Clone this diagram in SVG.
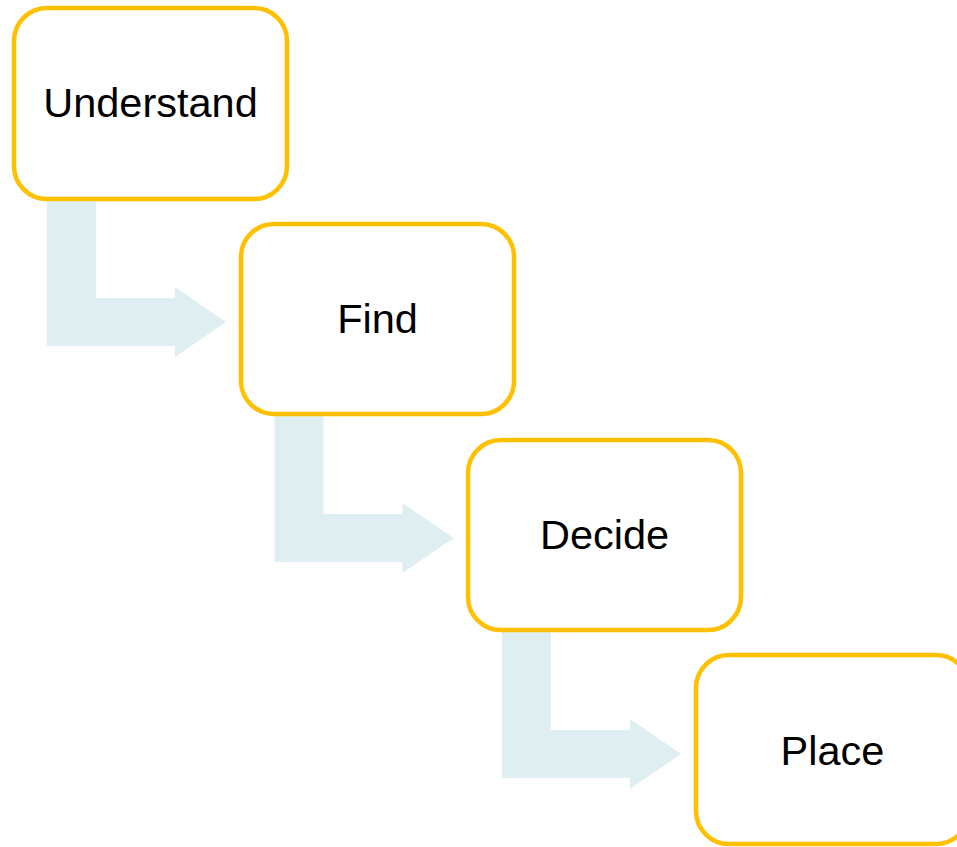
<svg xmlns="http://www.w3.org/2000/svg" width="957" height="847" viewBox="0 0 957 847">
  <style>
    .box { fill: #FFFFFF; stroke: #FFC000; stroke-width: 4.5; }
    .lbl { font-family: "Liberation Sans", Arial, sans-serif; font-size: 41.5px; fill: #000000; text-anchor: middle; }
    .flow { fill: #DFEEF1; stroke: none; }
  </style>
  <defs>
    <!-- bent arrow: drops down from a step, then points right to the next -->
    <path id="bent" d="M47,196 L96,196 L96,298 L175,298 L175,287 L226,322 L175,357 L175,346 L47,346 Z"/>
  </defs>
  <rect width="957" height="847" fill="#FFFFFF"/>

  <g id="connectors">
    <use href="#bent" class="flow"/>
    <use href="#bent" class="flow" transform="translate(227.5,216)"/>
    <use href="#bent" class="flow" transform="translate(455,432)"/>
  </g>

  <g id="node-understand">
    <rect class="box" x="14" y="8" width="273" height="191" rx="33"/>
    <text class="lbl" x="150.5" y="117">Understand</text>
  </g>
  <g id="node-find">
    <rect class="box" x="241" y="224" width="273" height="190" rx="33"/>
    <text class="lbl" x="377.5" y="333">Find</text>
  </g>
  <g id="node-decide">
    <rect class="box" x="468" y="440" width="273" height="190" rx="33"/>
    <text class="lbl" x="604.5" y="549">Decide</text>
  </g>
  <g id="node-place">
    <rect class="box" x="696" y="655" width="273" height="189" rx="33"/>
    <text class="lbl" x="832.5" y="765">Place</text>
  </g>
</svg>
